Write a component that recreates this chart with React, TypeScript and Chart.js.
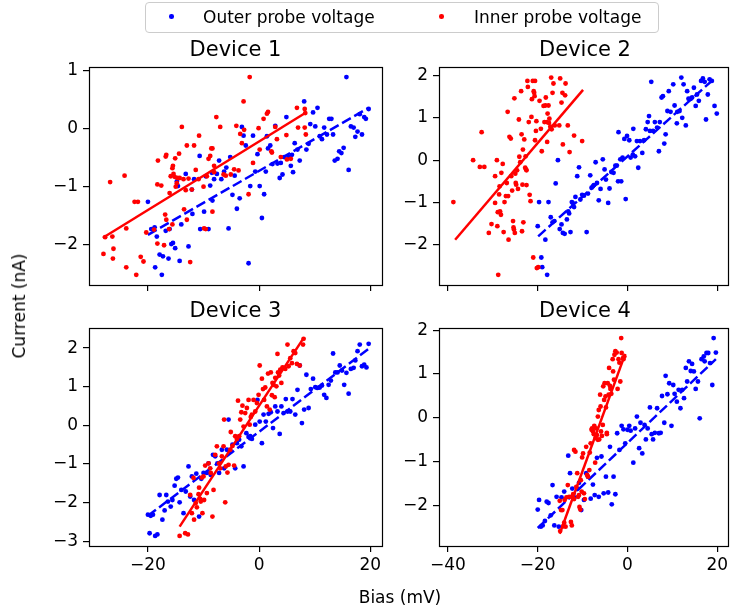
import React, { useEffect, useRef } from 'react';
import Chart from 'chart.js/auto';

type P = [number, number];

// ---------- Data ----------
const TITLES = ['Device 1', 'Device 2', 'Device 3', 'Device 4'];
const LEGEND_LABELS = ['Outer probe voltage', 'Inner probe voltage'];
const X_LABEL = 'Bias (mV)';
const Y_LABEL = 'Current (nA)';

const X_TICKS_LEFT = [-20, 0, 20];
const X_TICKS_RIGHT = [-40, -20, 0, 20];
const X_RANGE_LEFT = [-30.6, 22.1];
const X_RANGE_RIGHT = [-42.0, 22.4];

const Y_TICKS_1 = [-2, -1, 0, 1];
const Y_TICKS_2 = [-2, -1, 0, 1, 2];
const Y_TICKS_3 = [-3, -2, -1, 0, 1, 2];
const Y_TICKS_4 = [-2, -1, 0, 1, 2];
const Y_RANGE_1 = [-2.695, 1.064];
const Y_RANGE_2 = [-2.95, 2.2];
const Y_RANGE_3 = [-3.12, 2.52];
const Y_RANGE_4 = [-2.92, 2.05];

const D1_OUTER: P[] = [[-20.0,-1.26],[-19.4,-1.73],[-18.8,-1.70],[-18.7,-2.39],[-18.4,-1.86],[-17.9,-2.17],[-17.5,-2.52],[-17.3,-2.20],[-16.8,-1.76],[-16.3,-2.24],[-16.1,-1.73],[-15.8,-1.99],[-15.5,-1.97],[-15.1,-2.06],[-14.8,-0.91],[-14.6,-0.99],[-14.3,-2.28],[-14.0,-1.65],[-13.2,-0.78],[-12.7,-2.03],[-12.1,-1.05],[-12.0,-1.47],[-11.7,-0.87],[-10.7,-0.47],[-10.6,-1.73],[-9.9,-1.43],[-9.6,-0.82],[-9.1,-1.73],[-8.8,-0.98],[-8.5,-0.76],[-8.4,-1.24],[-8.1,-0.87],[-7.6,-0.78],[-7.2,-0.55],[-6.8,-0.87],[-6.3,-0.74],[-5.9,-0.67],[-5.5,-1.72],[-5.2,-0.49],[-4.8,-1.14],[-4.4,-0.81],[-4.0,-1.38],[-3.5,-1.20],[-3.1,0.03],[-2.8,-0.12],[-2.4,-0.29],[-1.9,-2.32],[-1.6,-0.99],[-1.1,-0.12],[-0.7,-0.74],[-0.3,-0.44],[0.1,-0.99],[0.5,-1.54],[0.9,-1.13],[1.2,-0.74],[1.4,-0.13],[1.6,-0.34],[2.0,-0.29],[2.4,-0.61],[2.9,0.05],[3.3,-0.60],[3.7,-0.85],[3.9,-0.59],[4.2,-0.79],[4.5,-0.49],[4.9,0.20],[5.3,-0.48],[5.7,-0.64],[5.9,-0.45],[6.1,-0.75],[6.4,-0.25],[6.9,-0.36],[7.3,-0.55],[8.1,0.47],[8.5,-0.36],[8.9,-0.26],[9.2,0.08],[9.7,0.28],[10.1,0.04],[10.5,0.36],[10.9,-0.13],[11.3,-0.18],[11.7,0.02],[12.2,-0.10],[12.6,0.17],[13.0,0.17],[13.3,-0.10],[13.6,-0.55],[14.1,-0.52],[14.4,-0.39],[14.8,-0.42],[15.2,-0.33],[15.7,0.89],[16.1,-0.71],[16.5,0.04],[17.0,0.02],[17.3,-0.14],[17.7,-0.05],[18.1,0.25],[18.5,-0.10],[18.9,0.20],[19.2,0.17],[19.7,0.34]];
const D1_INNER: P[] = [[-28.0,-2.16],[-27.7,-1.87],[-26.8,-0.92],[-26.4,-1.86],[-26.2,-2.07],[-26.3,-2.24],[-24.2,-0.81],[-23.9,-2.39],[-23.9,-1.72],[-22.4,-1.26],[-21.8,-1.26],[-22.1,-2.52],[-21.3,-2.21],[-20.8,-2.29],[-20.3,-1.79],[-18.9,-1.74],[-18.3,-1.98],[-18.3,-0.96],[-18.2,-0.55],[-17.6,-0.98],[-17.1,-2.01],[-16.9,-1.48],[-16.8,-0.48],[-16.7,-0.45],[-16.7,-1.57],[-16.2,-1.73],[-16.1,-1.11],[-15.9,-0.82],[-15.6,-1.65],[-15.6,-0.68],[-15.5,-0.64],[-15.4,-0.78],[-15.2,-0.83],[-15.1,-0.51],[-15.0,-1.00],[-14.8,-0.94],[-14.7,-0.85],[-14.4,-0.43],[-14.3,-0.85],[-13.9,0.03],[-13.6,-0.87],[-13.5,-1.39],[-13.2,-1.06],[-13.0,-1.57],[-13.0,-0.29],[-12.7,-0.86],[-12.4,-2.30],[-12.1,-1.05],[-11.7,-0.29],[-11.4,-0.71],[-10.9,-0.87],[-10.8,-0.12],[-10.0,-1.00],[-9.9,-1.72],[-9.6,-1.73],[-9.4,-0.82],[-9.1,-0.52],[-8.8,-0.47],[-8.6,-0.34],[-8.4,-0.34],[-8.4,-1.43],[-8.1,-0.64],[-8.1,-0.75],[-7.7,0.20],[-7.0,0.03],[-6.4,-0.79],[-6.0,-0.81],[-5.1,-0.79],[-4.5,-0.70],[-4.1,0.05],[-3.7,-0.72],[-3.4,-0.09],[-3.1,-0.25],[-2.8,0.47],[-2.7,-0.02],[-1.9,-1.13],[-1.7,0.89],[-1.1,-0.59],[-0.1,0.01],[0.1,-0.36],[0.8,0.17],[1.4,0.26],[1.6,0.29],[2.2,-0.39],[2.3,-0.41],[2.9,0.03],[3.2,-0.18],[3.9,-0.49],[4.9,-0.11],[5.0,-0.53],[5.7,-0.52],[6.8,0.36],[7.0,0.02],[8.2,0.34],[8.2,0.02],[8.4,-0.10],[8.3,0.27]];
const D1_OUTER_FIT: P[] = [[-20.0,-1.83],[19.7,0.36]];
const D1_INNER_FIT: P[] = [[-28.1,-1.88],[8.3,0.27]];

const D2_OUTER: P[] = [[-20.0,-1.56],[-19.7,-0.99],[-19.2,-2.30],[-19.0,-2.53],[-18.3,-1.88],[-17.9,-2.71],[-17.6,-0.99],[-17.1,-1.35],[-16.7,-1.47],[-16.3,-1.44],[-16.0,-0.55],[-15.5,0.00],[-15.1,-1.63],[-14.7,-1.52],[-14.4,-1.72],[-14.0,-1.74],[-13.5,-1.40],[-13.2,-1.21],[-13.0,-1.26],[-12.7,-1.70],[-12.4,-0.99],[-12.2,-1.01],[-11.9,-1.11],[-11.6,-0.87],[-11.2,-0.38],[-10.8,-0.17],[-10.5,-0.93],[-10.1,-0.82],[-9.7,-0.84],[-9.1,-1.70],[-8.8,-0.79],[-8.3,-0.36],[-8.0,-0.65],[-7.7,-0.62],[-7.5,-0.59],[-7.1,-0.05],[-6.8,-0.54],[-6.4,-0.95],[-6.0,-0.68],[-5.5,0.02],[-5.1,-0.22],[-4.8,-0.46],[-4.3,-1.01],[-4.0,-0.67],[-3.6,-0.28],[-3.1,-0.30],[-2.7,-0.13],[-2.4,-0.13],[-2.1,-0.50],[-2.0,0.66],[-1.6,0.02],[-1.4,-0.50],[-1.1,0.06],[-0.7,0.50],[-0.4,-0.92],[-0.1,0.57],[0.4,0.47],[0.7,0.06],[1.2,0.13],[1.3,0.74],[1.7,0.09],[2.1,0.45],[2.4,-0.18],[2.8,0.45],[3.3,0.17],[3.7,0.47],[4.1,0.73],[4.5,0.90],[4.8,1.04],[5.0,0.69],[5.3,1.85],[5.7,0.69],[6.1,0.90],[6.6,0.77],[7.0,0.21],[7.2,0.90],[7.6,1.48],[7.9,1.51],[8.2,0.39],[8.5,0.61],[8.9,1.16],[9.2,1.63],[9.6,1.14],[10.2,1.79],[10.5,1.29],[11.0,0.87],[11.1,1.14],[11.6,1.16],[12.0,1.95],[12.2,1.00],[12.5,1.79],[13.0,0.82],[13.3,1.63],[13.6,1.45],[14.1,1.45],[14.4,1.48],[14.8,1.71],[15.2,1.28],[15.5,1.55],[15.9,1.40],[16.4,1.87],[16.8,1.93],[17.2,1.85],[17.5,0.96],[17.9,1.55],[18.3,1.91],[18.8,1.87],[19.4,1.28],[19.9,1.10]];
const D2_INNER: P[] = [[-38.8,-0.99],[-34.4,0.00],[-32.9,-0.16],[-32.5,0.66],[-31.9,-0.16],[-30.9,-1.72],[-30.3,-1.51],[-29.5,-0.38],[-29.5,-1.01],[-29.1,0.00],[-29.0,-1.56],[-28.8,-2.71],[-28.9,-1.23],[-28.6,-0.81],[-28.5,-0.62],[-28.4,-1.21],[-28.2,-1.29],[-28.1,-0.30],[-27.8,-0.09],[-27.6,-1.70],[-27.4,-0.99],[-27.1,-0.85],[-26.9,-0.54],[-26.7,1.14],[-26.6,-0.85],[-26.5,-1.88],[-26.3,0.55],[-26.0,0.51],[-25.9,-0.38],[-25.7,-0.72],[-25.5,-1.44],[-25.4,-1.59],[-25.3,-1.64],[-25.2,1.46],[-25.1,-1.72],[-25.0,-0.32],[-24.9,-0.54],[-24.8,-0.58],[-24.6,-0.24],[-24.4,-0.68],[-24.2,0.96],[-24.1,0.08],[-23.9,-0.05],[-23.7,1.63],[-23.6,0.61],[-23.5,-1.68],[-23.4,-0.58],[-23.3,0.25],[-23.2,-1.47],[-23.0,0.49],[-22.8,-0.18],[-22.7,0.09],[-22.6,-0.22],[-22.5,-0.59],[-22.5,-0.24],[-22.3,1.87],[-22.2,1.73],[-22.0,0.90],[-21.8,-0.82],[-21.6,-0.97],[-21.4,1.02],[-21.3,1.44],[-21.1,1.87],[-21.0,-2.30],[-20.9,1.63],[-20.8,1.59],[-20.7,1.51],[-20.6,0.47],[-20.6,1.87],[-20.4,0.69],[-20.3,0.92],[-20.2,-2.55],[-19.9,-2.53],[-19.6,1.40],[-19.3,0.74],[-19.1,0.21],[-18.7,1.28],[-18.5,0.90],[-18.3,1.29],[-18.2,1.48],[-18.0,0.90],[-17.9,0.43],[-17.8,1.10],[-17.6,1.29],[-17.5,0.88],[-17.4,0.98],[-17.2,0.79],[-17.0,1.95],[-16.9,0.73],[-16.7,1.59],[-16.5,1.81],[-16.2,0.82],[-15.2,0.82],[-15.0,1.93],[-14.7,1.36],[-14.5,1.59],[-14.4,0.37],[-13.9,1.53],[-13.8,1.81],[-13.3,0.82],[-12.9,0.19],[-11.9,0.58],[-10.1,0.45]];
const D2_OUTER_FIT: P[] = [[-19.9,-1.80],[19.4,1.93]];
const D2_INNER_FIT: P[] = [[-38.4,-1.88],[-9.9,1.66]];

const D3_OUTER: P[] = [[-20.0,-2.31],[-19.7,-2.79],[-19.5,-2.34],[-19.1,-2.31],[-18.7,-2.86],[-18.3,-2.82],[-17.9,-1.80],[-17.4,-2.44],[-17.0,-2.20],[-16.7,-1.80],[-16.4,-1.97],[-15.9,-2.10],[-15.6,-1.93],[-15.2,-1.56],[-14.9,-1.38],[-14.6,-1.35],[-14.3,-1.99],[-14.0,-1.67],[-13.6,-2.27],[-13.2,-1.71],[-12.7,-1.06],[-12.4,-1.84],[-12.1,-1.32],[-11.7,-1.93],[-11.3,-1.25],[-10.8,-2.36],[-10.4,-1.38],[-10.0,-1.23],[-9.4,-1.23],[-9.1,-0.98],[-8.7,-1.28],[-8.3,-0.76],[-7.9,-0.80],[-7.5,-0.98],[-7.2,-1.23],[-6.7,-0.63],[-6.3,-1.11],[-5.8,-0.63],[-5.5,0.15],[-5.1,-0.67],[-4.8,-0.50],[-4.3,-1.11],[-4.0,-0.46],[-3.6,-0.37],[-3.2,-0.54],[-2.8,-1.06],[-2.3,-0.20],[-1.9,-0.30],[-1.6,-0.28],[-1.3,-0.35],[-0.7,0.02],[-0.3,0.66],[0.1,0.10],[0.5,-0.46],[0.8,0.28],[1.2,0.10],[1.7,0.30],[2.1,0.34],[2.5,-0.07],[2.9,0.49],[3.3,0.36],[3.7,-0.22],[4.0,0.49],[4.4,0.32],[4.8,0.68],[5.1,0.36],[5.6,0.36],[6.0,0.68],[6.5,0.28],[6.9,0.92],[7.3,1.55],[7.7,0.06],[8.1,0.41],[8.5,1.31],[8.9,0.45],[9.3,0.94],[9.7,1.21],[10.1,0.99],[10.5,0.97],[10.9,0.98],[11.3,1.03],[11.7,0.79],[12.1,0.71],[12.5,1.05],[12.9,1.16],[13.3,1.86],[13.7,1.37],[14.1,1.37],[14.5,1.55],[14.9,1.42],[15.3,1.05],[15.7,1.36],[16.1,0.82],[16.5,1.46],[17.0,1.49],[17.3,1.68],[17.7,1.92],[18.1,2.09],[18.5,1.53],[18.9,1.57],[19.3,1.50],[19.7,2.11]];
const D3_INNER: P[] = [[-14.3,-2.86],[-13.3,-2.79],[-12.8,-2.82],[-12.4,-1.80],[-12.1,-2.27],[-11.8,-1.36],[-11.7,-2.44],[-11.4,-2.01],[-11.2,-2.12],[-10.9,-1.78],[-10.8,-1.61],[-10.6,-1.90],[-10.5,-1.97],[-10.3,-1.35],[-10.2,-2.27],[-10.0,-1.32],[-9.9,-1.93],[-9.7,-1.04],[-9.4,-1.75],[-9.1,-0.98],[-8.8,-1.11],[-8.7,-1.23],[-8.4,-2.36],[-8.2,-1.67],[-7.9,-0.76],[-7.6,-0.54],[-7.2,-0.98],[-7.0,-1.11],[-6.7,-0.80],[-6.4,-0.54],[-6.3,0.15],[-6.1,-1.99],[-6.0,-1.06],[-5.7,-1.22],[-5.5,-1.02],[-5.2,-0.63],[-5.1,-0.17],[-4.8,-0.53],[-4.5,-1.04],[-4.3,-0.28],[-4.0,-0.35],[-3.8,0.64],[-3.6,-0.28],[-3.4,0.15],[-3.2,0.34],[-3.0,0.51],[-2.8,-0.03],[-2.5,0.32],[-2.2,0.45],[-1.9,0.66],[-1.7,0.02],[-1.5,0.22],[-1.3,0.28],[-1.0,0.66],[-0.7,0.36],[-0.4,0.58],[-0.1,0.79],[0.1,1.55],[0.5,1.21],[0.7,0.94],[0.9,0.66],[1.1,0.98],[1.4,0.49],[1.6,1.34],[1.9,0.41],[2.1,1.37],[2.3,0.78],[2.4,1.10],[2.6,1.05],[2.8,0.73],[2.9,1.23],[3.1,1.01],[3.3,1.85],[3.4,1.37],[3.6,1.29],[3.8,1.44],[4.0,1.10],[4.2,1.50],[4.4,1.49],[4.7,1.46],[5.1,2.09],[5.3,1.53],[5.6,1.74],[5.9,1.61],[6.2,1.92],[6.5,1.87],[6.8,1.59],[7.3,1.55],[7.9,2.09],[8.0,2.24]];
const D3_OUTER_FIT: P[] = [[-20.0,-2.34],[19.7,1.98]];
const D3_INNER_FIT: P[] = [[-14.3,-2.62],[7.9,2.24]];

const D4_OUTER: P[] = [[-20.0,-2.09],[-19.7,-1.87],[-19.3,-2.48],[-18.9,-2.45],[-18.4,-2.35],[-18.0,-1.91],[-17.6,-1.94],[-17.1,-2.22],[-16.7,-1.53],[-16.3,-2.45],[-15.8,-1.80],[-15.3,-2.48],[-14.7,-1.81],[-14.1,-1.68],[-13.2,-0.86],[-12.8,-1.26],[-12.3,-1.61],[-11.8,-1.81],[-11.2,-1.62],[-10.8,-1.48],[-10.3,-2.10],[-9.7,-1.87],[-9.2,-1.26],[-8.8,-1.34],[-8.2,-1.84],[-7.7,-1.52],[-7.3,-1.76],[-6.8,-0.91],[-6.4,-1.80],[-5.8,-0.88],[-5.3,-1.72],[-4.8,-1.34],[-4.3,-1.70],[-3.9,-0.66],[-3.5,-1.97],[-3.1,-1.34],[-2.7,-1.74],[-2.3,-0.35],[-1.8,-0.73],[-1.3,-0.18],[-0.9,-0.26],[-0.5,-0.58],[0.0,-0.27],[0.4,-0.18],[0.7,-0.29],[1.3,-1.02],[1.7,-0.24],[2.1,0.03],[2.6,-0.69],[2.9,-0.11],[3.3,-0.81],[3.8,-0.16],[4.1,-0.49],[4.5,-0.24],[5.0,0.24],[5.4,-0.37],[5.7,-0.49],[6.1,-0.34],[6.6,0.22],[7.0,-0.35],[7.4,-0.34],[7.7,0.50],[8.2,-0.11],[8.5,0.96],[8.9,0.54],[9.3,0.79],[9.8,-0.18],[10.2,0.75],[10.5,0.55],[11.0,0.37],[11.4,0.64],[11.8,0.22],[12.2,0.64],[12.6,0.45],[13.0,1.14],[13.3,0.83],[13.7,1.29],[14.1,1.07],[14.4,1.23],[14.8,1.06],[15.2,0.66],[15.7,0.83],[16.1,-0.01],[16.5,1.34],[17.0,1.40],[17.2,1.29],[17.6,1.48],[18.0,1.48],[18.4,1.25],[18.9,0.75],[19.2,1.82],[19.7,1.49]];
const D4_INNER: P[] = [[-15.1,-1.89],[-15.0,-2.58],[-14.8,-2.10],[-14.5,-2.10],[-14.3,-2.47],[-14.1,-2.39],[-14.0,-1.87],[-13.8,-2.48],[-13.6,-1.81],[-13.3,-1.53],[-13.0,-1.80],[-12.6,-2.37],[-12.4,-2.45],[-12.3,-1.80],[-12.1,-1.74],[-11.9,-1.85],[-11.9,-0.73],[-11.6,-0.77],[-11.4,-1.57],[-11.2,-1.26],[-11.0,-1.80],[-10.8,-1.76],[-10.7,-2.03],[-10.5,-2.09],[-10.4,-1.42],[-10.2,-1.68],[-10.1,-0.90],[-9.9,-0.81],[-9.7,-1.72],[-9.5,-1.85],[-9.2,-0.66],[-9.0,-1.30],[-8.8,-1.34],[-8.5,-1.19],[-8.4,-0.79],[-8.2,-0.58],[-8.0,-0.27],[-7.9,-0.24],[-7.7,-0.31],[-7.5,-0.37],[-7.4,-0.18],[-7.2,-1.02],[-7.1,-0.46],[-7.0,-0.24],[-6.8,-0.39],[-6.6,0.03],[-6.6,-0.50],[-6.4,0.18],[-6.3,-0.49],[-6.1,0.53],[-6.0,0.26],[-5.9,-0.31],[-5.7,-0.41],[-5.5,-0.16],[-5.4,0.72],[-5.2,0.41],[-5.1,0.79],[-4.9,0.49],[-4.8,0.24],[-4.6,-0.37],[-4.6,-0.34],[-4.4,0.79],[-4.2,0.53],[-4.1,1.14],[-3.9,0.73],[-3.8,0.66],[-3.6,0.55],[-3.3,1.34],[-3.2,1.06],[-3.0,0.87],[-2.9,1.44],[-2.7,1.52],[-2.4,1.49],[-2.2,0.66],[-2.0,1.34],[-1.8,1.26],[-1.6,0.83],[-1.4,1.82],[-1.3,1.48],[-1.0,1.36],[-0.9,1.34],[-0.7,1.40]];
const D4_OUTER_FIT: P[] = [[-20.0,-2.51],[19.7,1.34]];
const D4_INNER_FIT: P[] = [[-15.1,-2.64],[-0.5,1.46]];

// ---------- Layout / style ----------
const FONT = "'DejaVu Sans', 'Liberation Sans', sans-serif";
const BLUE = '#0000ff';
const RED = '#ff0000';
const AX_W = 80;
const AX_H = 40;
const PAD_T = 20;

type Area = { left: number; top: number; right: number; bottom: number };
type PanelSpec = {
  area: Area; padR: number; outer: P[]; inner: P[]; outerFit: P[]; innerFit: P[];
  xRange: number[]; xTicks: number[]; yRange: number[]; yTicks: number[]; xLabels: boolean; title: string;
};

const PANELS: PanelSpec[] = [
  { area: { left: 89, top: 67, right: 382, bottom: 285 }, padR: 15, outer: D1_OUTER, inner: D1_INNER, outerFit: D1_OUTER_FIT, innerFit: D1_INNER_FIT, xRange: X_RANGE_LEFT, xTicks: X_TICKS_LEFT, yRange: Y_RANGE_1, yTicks: Y_TICKS_1, xLabels: false, title: TITLES[0] },
  { area: { left: 439, top: 67, right: 731, bottom: 285 }, padR: 1, outer: D2_OUTER, inner: D2_INNER, outerFit: D2_OUTER_FIT, innerFit: D2_INNER_FIT, xRange: X_RANGE_RIGHT, xTicks: X_TICKS_RIGHT, yRange: Y_RANGE_2, yTicks: Y_TICKS_2, xLabels: false, title: TITLES[1] },
  { area: { left: 89, top: 328, right: 382, bottom: 546 }, padR: 15, outer: D3_OUTER, inner: D3_INNER, outerFit: D3_OUTER_FIT, innerFit: D3_INNER_FIT, xRange: X_RANGE_LEFT, xTicks: X_TICKS_LEFT, yRange: Y_RANGE_3, yTicks: Y_TICKS_3, xLabels: true, title: TITLES[2] },
  { area: { left: 439, top: 328, right: 731, bottom: 546 }, padR: 1, outer: D4_OUTER, inner: D4_INNER, outerFit: D4_OUTER_FIT, innerFit: D4_INNER_FIT, xRange: X_RANGE_RIGHT, xTicks: X_TICKS_RIGHT, yRange: Y_RANGE_4, yTicks: Y_TICKS_4, xLabels: true, title: TITLES[3] },
];

const fmt = (v: number) => (v < 0 ? '\u2212' + Math.abs(v) : String(v));
const toXY = (arr: P[]) => arr.map(([x, y]) => ({ x, y }));

const framePlugin = {
  id: 'frame',
  afterDatasetsDraw(chart: any) {
    const { ctx, chartArea: a } = chart;
    ctx.save();
    ctx.strokeStyle = '#000';
    ctx.lineWidth = 1.2;
    ctx.strokeRect(Math.round(a.left) + 0.5, Math.round(a.top) + 0.5, Math.round(a.right - a.left), Math.round(a.bottom - a.top));
    ctx.restore();
  },
};

function Panel({ spec }: { spec: PanelSpec }) {
  const ref = useRef<HTMLCanvasElement | null>(null);
  const { area, padR } = spec;
  const w = area.right - area.left + AX_W + padR;
  const h = area.bottom - area.top + PAD_T + AX_H;

  useEffect(() => {
    if (!ref.current) return;
    const tickFont = { family: FONT, size: 17 };
    const grid = { display: true, drawOnChartArea: false, drawTicks: true, tickLength: 6, color: '#000', lineWidth: 1.2 };
    const chart = new Chart(ref.current, {
      type: 'scatter',
      data: {
        datasets: [
          { data: toXY(spec.innerFit), showLine: true, borderColor: RED, borderWidth: 2.5, pointRadius: 0, order: 1 } as any,
          { data: toXY(spec.inner), backgroundColor: RED, borderWidth: 0, pointRadius: 2.4, order: 2 } as any,
          { data: toXY(spec.outerFit), showLine: true, borderColor: BLUE, borderWidth: 2.5, borderDash: [10, 4], pointRadius: 0, order: 3 } as any,
          { data: toXY(spec.outer), backgroundColor: BLUE, borderWidth: 0, pointRadius: 2.4, order: 4 } as any,
        ],
      },
      options: {
        responsive: false,
        animation: false,
        events: [],
        layout: { padding: { top: PAD_T, right: padR, left: 0, bottom: 0 } },
        plugins: { legend: { display: false }, tooltip: { enabled: false }, title: { display: false } },
        scales: {
          x: {
            type: 'linear', min: spec.xRange[0], max: spec.xRange[1],
            grid, border: { display: false },
            ticks: { font: tickFont, color: '#000', padding: 3, maxRotation: 0, autoSkip: false, callback: (v: any) => (spec.xLabels ? fmt(Number(v)) : '') },
            afterBuildTicks: (s: any) => { s.ticks = spec.xTicks.map((v) => ({ value: v })); },
            afterFit: (s: any) => { s.height = AX_H; s.paddingLeft = 0; s.paddingRight = 0; s.paddingTop = 0; s.paddingBottom = 0; },
          },
          y: {
            type: 'linear', min: spec.yRange[0], max: spec.yRange[1],
            grid, border: { display: false },
            ticks: { font: tickFont, color: '#000', padding: 5, autoSkip: false, callback: (v: any) => fmt(Number(v)) },
            afterBuildTicks: (s: any) => { s.ticks = spec.yTicks.map((v) => ({ value: v })); },
            afterFit: (s: any) => { s.width = AX_W; s.paddingLeft = 0; s.paddingRight = 0; s.paddingTop = 0; s.paddingBottom = 0; },
          },
        },
      } as any,
      plugins: [framePlugin],
    });
    return () => chart.destroy();
  }, [spec]);

  return (
    <canvas
      ref={ref}
      width={w}
      height={h}
      style={{ position: 'absolute', left: area.left - AX_W, top: area.top - PAD_T, width: w, height: h }}
    />
  );
}

export default function App() {
  const text: React.CSSProperties = { position: 'absolute', fontFamily: FONT, color: '#000', whiteSpace: 'nowrap' };
  return (
    <div style={{ position: 'absolute', left: 0, top: 0, width: 732, height: 610, overflow: 'hidden', background: '#fff' }}>
      {PANELS.map((p, i) => (
        <Panel key={i} spec={p} />
      ))}
      {PANELS.map((p, i) => (
        <div key={'t' + i} style={{ ...text, left: p.area.left, width: p.area.right - p.area.left, top: p.area.top - 30, fontSize: 21, lineHeight: '25px', textAlign: 'center' }}>
          {p.title}
        </div>
      ))}
      {/* legend */}
      <div style={{ position: 'absolute', left: 145, top: 2, width: 514, height: 31, border: '1px solid #cccccc', borderRadius: 4, boxSizing: 'border-box', background: 'rgba(255,255,255,0.8)' }} />
      <div style={{ position: 'absolute', left: 169, top: 14, width: 4.5, height: 4.5, borderRadius: '50%', background: BLUE }} />
      <div style={{ ...text, left: 203, top: 7, fontSize: 17, lineHeight: '20px' }}>{LEGEND_LABELS[0]}</div>
      <div style={{ position: 'absolute', left: 439, top: 14, width: 4.5, height: 4.5, borderRadius: '50%', background: RED }} />
      <div style={{ ...text, left: 474, top: 7, fontSize: 17, lineHeight: '20px' }}>{LEGEND_LABELS[1]}</div>
      {/* axis labels */}
      <div style={{ ...text, left: 19, top: 306, fontSize: 17, lineHeight: '20px', transform: 'translate(-50%, -50%) rotate(-90deg)' }}>{Y_LABEL}</div>
      <div style={{ ...text, left: 400, top: 587, fontSize: 17, lineHeight: '20px', transform: 'translateX(-50%)' }}>{X_LABEL}</div>
    </div>
  );
}
